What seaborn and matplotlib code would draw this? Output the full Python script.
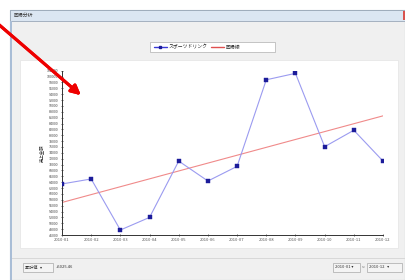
import numpy as np
import pandas as pd
import matplotlib
matplotlib.use("Agg")
import matplotlib.pyplot as plt
from matplotlib.patches import Rectangle
from matplotlib.lines import Line2D
import seaborn as sns

# data
months = ["2010-01", "2010-02", "2010-03", "2010-04", "2010-05", "2010-06",
          "2010-07", "2010-08", "2010-09", "2010-10", "2010-11", "2010-12"]
sales = [63400, 65100, 47700, 52000, 71200, 64400,
         69400, 98900, 101100, 76100, 81700, 71200]
y_ticks = list(range(46000, 102001, 2000))

window_title = "回帰分析"
series_name = "スポーツドリンク"
reg_name = "回帰線"
y_label = "売上金額"
mode_label = "累計値"
mode_value = "+5025.46"
range_from = "2010-01"
range_to = "2010-12"

line_color = "#9b9bf0"
marker_color = "#1c1c9a"
reg_color = "#f08a8a"

df = pd.DataFrame({"idx": np.arange(len(months)), "month": months, "sales": sales})

sns.set_style("white")
plt.rcParams["font.family"] = ["Noto Sans CJK JP", "DejaVu Sans"]

W, H = 405, 280
fig = plt.figure(figsize=(W / 100, H / 100), dpi=100)
fig.patch.set_facecolor("white")


def px_rect(x, y, w, h, **kw):
    # rectangle in screen pixels (origin top-left), drawn behind the axes
    r = Rectangle((x / W, 1 - (y + h) / H), w / W, h / H,
                  transform=fig.transFigure, zorder=-10, **kw)
    fig.add_artist(r)
    return r


def px_text(x, y, s, **kw):
    fig.text(x / W, 1 - y / H, s, **kw)


# window chrome
px_rect(10, 10, 395, 270, facecolor="#f0f0f0", edgecolor="#9aa8b8", lw=0.8)
px_rect(10, 10, 395, 11, facecolor="#dbe6f2", edgecolor="#9aa8b8", lw=0.6)
px_rect(403, 11, 2, 9, facecolor="#d9534f", edgecolor="none")
px_text(14, 15.5, window_title, fontsize=3.5, va="center", color="#333333")
px_rect(10, 21, 2, 259, facecolor="#a9bdd6", edgecolor="none")
# chart panel
px_rect(20, 60, 378, 188, facecolor="white", edgecolor="#e4e4e4", lw=0.5)
# legend box (wider than its content, as in the app)
px_rect(150, 42, 125, 10, facecolor="white", edgecolor="#b0b0b0", lw=0.5)
# bottom bar
px_rect(12, 258, 393, 1, facecolor="#d8d8d8", edgecolor="none")
px_rect(23, 263, 30, 9, facecolor="#f4f4f4", edgecolor="#a8a8a8", lw=0.5)
px_text(25, 267.5, mode_label + "   ▾", fontsize=3, va="center", color="#333333")
px_text(56, 267.5, mode_value, fontsize=3, va="center", color="#333333")
px_rect(333, 263, 27, 9, facecolor="#f4f4f4", edgecolor="#a8a8a8", lw=0.5)
px_text(335, 267.5, range_from + " ▾", fontsize=3, va="center", color="#333333")
px_text(362, 267.5, "~", fontsize=3.5, va="center", color="#333333")
px_rect(367, 263, 35, 9, facecolor="#f4f4f4", edgecolor="#a8a8a8", lw=0.5)
px_text(369, 267.5, range_to + "   ▾", fontsize=3, va="center", color="#333333")

# plot area
ax = fig.add_axes([62 / W, 1 - 235 / H, 321 / W, 164.3 / H])
ax.set_facecolor("none")

sns.lineplot(data=df, x="idx", y="sales", ax=ax, color=line_color, lw=0.8,
             marker="s", markersize=2.2, markerfacecolor=marker_color,
             markeredgecolor=marker_color, markeredgewidth=0.3, zorder=3)
sns.regplot(data=df, x="idx", y="sales", ax=ax, scatter=False, ci=None,
            color=reg_color, line_kws={"lw": 0.8})

ax.set_xlim(0, 11)
ax.set_ylim(46000, 102000)
ax.set_xticks(df["idx"])
ax.set_xticklabels(months, fontsize=3, color="#555555")
ax.set_yticks(y_ticks)
ax.set_yticklabels([str(v) for v in y_ticks], fontsize=2.6, color="#444444")
ax.tick_params(axis="both", length=2, width=0.5, pad=1.5, color="#333333",
               direction="inout", left=True, bottom=True)
ax.set_xlabel("")
ax.set_ylabel(y_label, fontsize=3.2, color="#333333", labelpad=2)
for s in ["top", "right"]:
    ax.spines[s].set_visible(False)
for s in ["left", "bottom"]:
    ax.spines[s].set_color("#333333")
    ax.spines[s].set_linewidth(0.7)

handles = [
    Line2D([], [], color="#3a3ad8", lw=1.0, marker="s", markersize=2.0,
           markerfacecolor=marker_color, markeredgecolor=marker_color),
    Line2D([], [], color="#e05050", lw=1.0),
]
leg = fig.legend(handles, [series_name, reg_name], loc="center left",
                 bbox_to_anchor=(150 / W, 1 - 47 / H),
                 ncol=2, fontsize=3.5, frameon=False,
                 handlelength=2.5, columnspacing=0.8, handletextpad=0.4,
                 borderpad=0.4)

# red annotation arrow
fig.add_artist(plt.annotate("", xy=(83 / W, 1 - 97 / H), xytext=(-3 / W, 1 - 23 / H),
                            xycoords="figure fraction", textcoords="figure fraction",
                            arrowprops=dict(arrowstyle="-|>", lw=2.2, color="#ee0000",
                                            mutation_scale=14)))

fig.savefig("out.png", dpi=100)
